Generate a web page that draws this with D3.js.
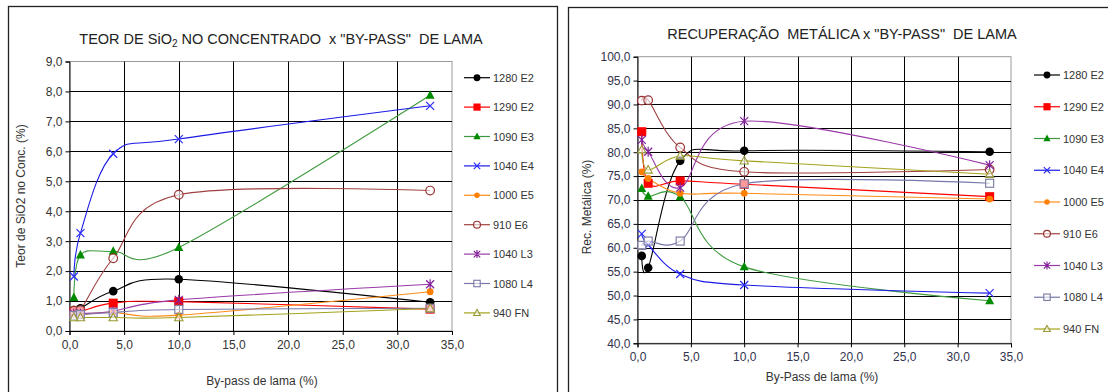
<!DOCTYPE html>
<html>
<head>
<meta charset="utf-8">
<script src="https://cdn.jsdelivr.net/npm/d3@7"></script>
<style>
  html, body { margin: 0; padding: 0; background: #fff; }
  svg { display: block; font-family: "Liberation Sans", Arial, sans-serif; }
  .title { white-space: pre; }
</style>
</head>
<body>
<svg id="chart" width="1108" height="392"></svg>
<script>
// By-pass de lama (%) — x positions shared by both charts
const bypass = [0.4, 1, 4, 10, 33];

const seriesNames = ["1280 E2", "1290 E2", "1090 E3", "1040 E4", "1000 E5", "910 E6", "1040 L3", "1080 L4", "940 FN"];

// Teor de SiO2 no concentrado (%)
const sio2_1280E2 = [0.70, 0.76, 1.33, 1.73, 0.96];
const sio2_1290E2 = [0.65, 0.65, 0.93, 0.98, 0.73];
const sio2_1090E3 = [1.12, 2.54, 2.66, 2.79, 7.87];
const sio2_1040E4 = [1.82, 3.27, 5.92, 6.41, 7.52];
const sio2_1000E5 = [0.55, 0.55, 0.62, 0.53, 1.31];
const sio2_910E6  = [0.68, 0.70, 2.43, 4.55, 4.69];
const sio2_1040L3 = [0.58, 0.58, 0.66, 1.04, 1.56];
const sio2_1080L4 = [0.52, 0.55, 0.62, 0.72, 0.76];
const sio2_940FN  = [0.45, 0.45, 0.45, 0.45, 0.75];

// Recuperação metálica (%)
const rec_1280E2 = [58.3, 55.8, 78.2, 80.3, 80.1];
const rec_1290E2 = [84.3, 73.5, 74.0, 73.3, 70.7];
const rec_1090E3 = [72.4, 70.8, 70.7, 56.0, 48.9];
const rec_1040E4 = [62.9, 60.6, 54.5, 52.2, 50.5];
const rec_1000E5 = [75.9, 74.5, 71.4, 71.4, 70.2];
const rec_910E6  = [90.8, 90.9, 81.0, 75.9, 76.4];
const rec_1040L3 = [82.6, 80.1, 72.6, 86.5, 77.3];
const rec_1080L4 = [60.5, 61.4, 61.4, 73.4, 73.5];
const rec_940FN  = [80.5, 76.3, 79.2, 78.2, 75.4];

// Tick values
const xTicks = [0, 5, 10, 15, 20, 25, 30, 35];
const sio2Ticks = [0, 1, 2, 3, 4, 5, 6, 7, 8, 9];
const recTicks = [40, 45, 50, 55, 60, 65, 70, 75, 80, 85, 90, 95, 100];

// Series appearance: line colour, marker colour, marker kind
const styles = [
  { line: "#000000", mark: "#000000", kind: "circle" },
  { line: "#ff0000", mark: "#ff0000", kind: "square" },
  { line: "#3f9a3f", mark: "#008a00", kind: "triangle" },
  { line: "#1a1ae6", mark: "#2a2aff", kind: "x" },
  { line: "#ff8c1a", mark: "#ff8000", kind: "diamond" },
  { line: "#a04040", mark: "#993333", kind: "ocircle" },
  { line: "#9a3aa8", mark: "#80209a", kind: "star" },
  { line: "#7777aa", mark: "#8080a8", kind: "osquare" },
  { line: "#a3a31a", mark: "#999933", kind: "otriangle" }
];

const fmt = v => d3.format(".1f")(v).replace(".", ",");
const svg = d3.select("#chart");

function drawMarker(g, kind, x, y, color, scale) {
  const s = scale || 1;
  switch (kind) {
    case "circle":
      g.append("circle").attr("cx", x).attr("cy", y).attr("r", 4.3 * s).attr("fill", color);
      break;
    case "square":
      g.append("rect").attr("x", x - 4.5 * s).attr("y", y - 4.5 * s).attr("width", 9 * s).attr("height", 9 * s).attr("fill", color);
      break;
    case "triangle":
      g.append("path").attr("d", `M${x},${y - 5 * s}L${x + 4.5 * s},${y + 3.5 * s}L${x - 4.5 * s},${y + 3.5 * s}Z`).attr("fill", color);
      break;
    case "x":
      g.append("path").attr("d", `M${x - 4 * s},${y - 4 * s}L${x + 4 * s},${y + 4 * s}M${x - 4 * s},${y + 4 * s}L${x + 4 * s},${y - 4 * s}`)
        .attr("stroke", color).attr("stroke-width", 1.2).attr("fill", "none");
      break;
    case "diamond":
      g.append("circle").attr("cx", x).attr("cy", y).attr("r", 3.4 * s).attr("fill", color);
      break;
    case "ocircle":
      g.append("circle").attr("cx", x).attr("cy", y).attr("r", 4.3 * s).attr("fill", "#fff").attr("fill-opacity", 0.6)
        .attr("stroke", color).attr("stroke-width", 1.2);
      break;
    case "star":
      g.append("path").attr("d", `M${x - 4 * s},${y - 4 * s}L${x + 4 * s},${y + 4 * s}M${x - 4 * s},${y + 4 * s}L${x + 4 * s},${y - 4 * s}M${x},${y - 5 * s}L${x},${y + 5 * s}`)
        .attr("stroke", color).attr("stroke-width", 1.2).attr("fill", "none");
      break;
    case "osquare":
      g.append("rect").attr("x", x - 4 * s).attr("y", y - 4 * s).attr("width", 8 * s).attr("height", 8 * s)
        .attr("fill", "#fff").attr("fill-opacity", 0.6).attr("stroke", color).attr("stroke-width", 1.2);
      break;
    case "otriangle":
      g.append("path").attr("d", `M${x},${y - 4.5 * s}L${x + 4.2 * s},${y + 3.2 * s}L${x - 4.2 * s},${y + 3.2 * s}Z`)
        .attr("fill", "#fff").attr("fill-opacity", 0.6).attr("stroke", color).attr("stroke-width", 1.1);
      break;
  }
}

function drawChart(cfg) {
  const g = svg.append("g");

  // outer frame
  g.append("rect").attr("x", cfg.frame[0]).attr("y", cfg.frame[1]).attr("width", cfg.frame[2]).attr("height", cfg.frame[3])
    .attr("fill", "#fff").attr("stroke", "#222").attr("stroke-width", 1.3);

  const x = d3.scaleLinear().domain([0, 35]).range([cfg.plot[0], cfg.plot[1]]);
  const y = d3.scaleLinear().domain(cfg.yDomain).range([cfg.plot[3], cfg.plot[2]]);

  // plot area border
  g.append("rect").attr("x", cfg.plot[0]).attr("y", cfg.plot[2])
    .attr("width", cfg.plot[1] - cfg.plot[0]).attr("height", cfg.plot[3] - cfg.plot[2])
    .attr("fill", "#fff").attr("stroke", "#9a9a9a").attr("stroke-width", 1);

  // gridlines
  g.append("g").selectAll("line").data(cfg.yTicks.slice(1, -1)).join("line")
    .attr("x1", cfg.plot[0]).attr("x2", cfg.plot[1])
    .attr("y1", d => Math.round(y(d)) + 0.5).attr("y2", d => Math.round(y(d)) + 0.5)
    .attr("stroke", "#000").attr("stroke-width", 1);
  g.append("g").selectAll("line").data(xTicks.slice(1, -1)).join("line")
    .attr("y1", cfg.plot[2]).attr("y2", cfg.plot[3])
    .attr("x1", d => Math.round(x(d)) + 0.5).attr("x2", d => Math.round(x(d)) + 0.5)
    .attr("stroke", "#000").attr("stroke-width", 1);

  // axes
  const xAxis = d3.axisBottom(x).tickValues(xTicks).tickFormat(fmt).tickSizeOuter(0).tickSize(4).tickPadding(3);
  const yAxis = d3.axisLeft(y).tickValues(cfg.yTicks).tickFormat(fmt).tickSizeOuter(0).tickSize(4).tickPadding(3);
  const xa = g.append("g").attr("transform", `translate(0,${cfg.plot[3]})`).call(xAxis);
  const ya = g.append("g").attr("transform", `translate(${cfg.plot[0]},0)`).call(yAxis);
  [xa, ya].forEach(a => {
    a.select(".domain").attr("stroke", "#000");
    a.selectAll(".tick line").attr("stroke", "#000");
    a.selectAll(".tick text").attr("fill", cfg.tickColor).attr("font-size", "12px")
      .attr("font-family", "'Liberation Sans', Arial, sans-serif");
  });
  xa.selectAll(".tick text").attr("dy", cfg.xLabelDy);

  // series
  const line = d3.line().x(d => x(d[0])).y(d => y(d[1])).curve(d3.curveCardinal.tension(0));
  cfg.series.forEach((vals, i) => {
    const pts = bypass.map((b, j) => [b, vals[j]]);
    g.append("path").attr("d", line(pts)).attr("fill", "none")
      .attr("stroke", styles[i].line).attr("stroke-width", 1.1);
  });
  cfg.series.forEach((vals, i) => {
    const mg = g.append("g");
    bypass.forEach((b, j) => drawMarker(mg, styles[i].kind, x(b), y(vals[j]), styles[i].mark, 1));
  });

  // titles
  const t = g.append("text").attr("class", "title").attr("x", cfg.titlePos[0]).attr("y", cfg.titlePos[1]).attr("text-anchor", "middle")
    .attr("font-size", "14.5px").attr("fill", "#222");
  cfg.title.forEach(part => {
    const ts = t.append("tspan").text(part.text);
    if (part.sub) ts.attr("font-size", "10px").attr("dy", 3);
    if (part.after) ts.attr("dy", -3);
  });

  g.append("text").attr("transform", `translate(${cfg.yTitlePos[0]},${cfg.yTitlePos[1]}) rotate(-90)`)
    .attr("text-anchor", "middle").attr("font-size", "12px").attr("fill", "#333").text(cfg.yTitle);
  g.append("text").attr("x", cfg.xTitlePos[0]).attr("y", cfg.xTitlePos[1])
    .attr("text-anchor", "middle").attr("font-size", "12px").attr("fill", "#333").text(cfg.xTitle);

  // legend
  const lg = g.append("g");
  seriesNames.forEach((name, i) => {
    const ly = cfg.legend.y0 + i * cfg.legend.step;
    lg.append("line").attr("x1", cfg.legend.x - 13).attr("x2", cfg.legend.x + 13).attr("y1", ly).attr("y2", ly)
      .attr("stroke", styles[i].line).attr("stroke-width", 1.2);
    drawMarker(lg, styles[i].kind, cfg.legend.x, ly, styles[i].mark, 0.8);
    lg.append("text").attr("x", cfg.legend.x + 16).attr("y", ly + 4).attr("font-size", "11px").attr("fill", "#333").text(name);
  });
}

drawChart({
  frame: [8.5, 6.5, 549, 400],
  plot: [69.5, 452, 61.5, 331],
  yDomain: [0, 9],
  yTicks: sio2Ticks,
  tickColor: "#333",
  xLabelDy: "0.9em",
  series: [sio2_1280E2, sio2_1290E2, sio2_1090E3, sio2_1040E4, sio2_1000E5, sio2_910E6, sio2_1040L3, sio2_1080L4, sio2_940FN],
  title: [{ text: "TEOR DE SiO" }, { text: "2", sub: true }, { text: " NO CONCENTRADO  x \"BY-PASS\"  DE LAMA", after: true }],
  titlePos: [281, 44],
  yTitle: "Teor de SiO2 no Conc. (%)",
  yTitlePos: [25, 196],
  xTitle: "By-pass de lama (%)",
  xTitlePos: [262, 385],
  legend: { x: 477, y0: 77.7, step: 29.4 }
});

drawChart({
  frame: [568.5, 7.5, 600, 400],
  plot: [637.5, 1011, 56.7, 343.3],
  yDomain: [40, 100],
  yTicks: recTicks,
  tickColor: "#33334d",
  xLabelDy: "0.9em",
  series: [rec_1280E2, rec_1290E2, rec_1090E3, rec_1040E4, rec_1000E5, rec_910E6, rec_1040L3, rec_1080L4, rec_940FN],
  title: [{ text: "RECUPERAÇÃO  METÁLICA x \"BY-PASS\"  DE LAMA" }],
  titlePos: [842, 39],
  yTitle: "Rec. Metálica (%)",
  yTitlePos: [591, 207],
  xTitle: "By-Pass de lama (%)",
  xTitlePos: [822, 381],
  legend: { x: 1047, y0: 75, step: 31.75 }
});
</script>
</body>
</html>
